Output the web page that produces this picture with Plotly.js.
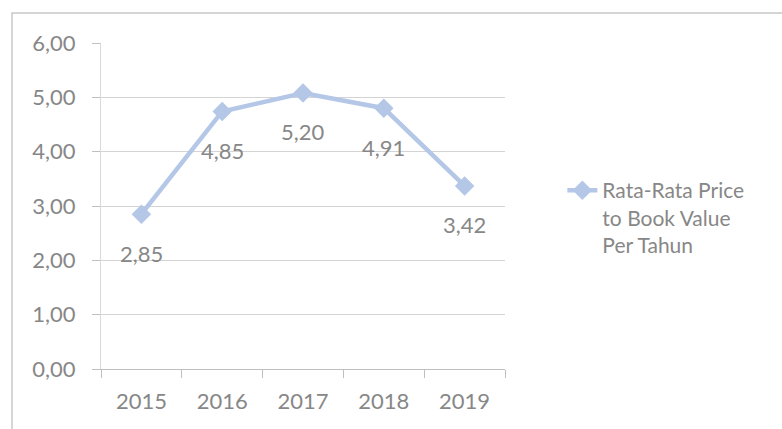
<!DOCTYPE html>
<html>
<head>
<meta charset="utf-8">
<script src="https://cdn.plot.ly/plotly-3.0.1.min.js"></script>
<style>
  html, body { margin: 0; padding: 0; background: #ffffff; }
  #chart { width: 782px; height: 429px; }
</style>
</head>
<body>
<div id="chart"></div>
<script>
// Data
const years = ['2015', '2016', '2017', '2018', '2019'];
const plottedValues = [2.85, 4.74, 5.08, 4.80, 3.37];
const dataLabels = ['2,85', '4,85', '5,20', '4,91', '3,42'];
const seriesName = 'Rata-Rata Price<br>to Book Value<br>Per Tahun';

const textColor = '#878787';
const lineColor = '#b4c7e7';
const gridColor = '#d4d4d4';
const fontFamily = 'Lato, "Open Sans", sans-serif';
const fontSize = 22;

const trace = {
  type: 'scatter',
  mode: 'lines+markers',
  x: years,
  y: plottedValues,
  name: seriesName,
  line: { color: lineColor, width: 4.5 },
  marker: { symbol: 'diamond', size: 15, color: lineColor },
  hoverinfo: 'skip'
};

// On a category axis, annotation x is the category's serial index
const annotations = years.map((yr, i) => ({
  x: i,
  y: plottedValues[i],
  xref: 'x',
  yref: 'y',
  text: dataLabels[i],
  showarrow: false,
  yshift: -39,
  font: { family: fontFamily, size: fontSize, color: textColor }
}));

const layout = {
  width: 782,
  height: 429,
  margin: { l: 101, r: 277, t: 43, b: 60, pad: 0 },
  paper_bgcolor: '#ffffff',
  plot_bgcolor: '#ffffff',
  separators: ',.',
  font: { family: fontFamily, size: fontSize, color: textColor },
  showlegend: true,
  legend: {
    x: 1.142,
    xanchor: 'left',
    y: 0.61,
    yanchor: 'top',
    valign: 'top',
    bgcolor: 'rgba(0,0,0,0)',
    font: { family: fontFamily, size: fontSize - 1, color: textColor }
  },
  xaxis: {
    type: 'category',
    categoryarray: years,
    range: [-0.5, 4.5],
    tickson: 'boundaries',
    ticks: 'outside',
    ticklen: 8,
    tickcolor: '#bfbfbf',
    showgrid: false,
    showline: true,
    linecolor: '#bfbfbf',
    linewidth: 1,
    zeroline: false,
    tickangle: 0,
    ticklabelstandoff: 13,
    tickfont: { family: fontFamily, size: fontSize, color: textColor },
    fixedrange: true
  },
  yaxis: {
    range: [0, 6],
    dtick: 1,
    tick0: 0,
    tickformat: '.2f',
    ticks: 'outside',
    ticklen: 8,
    tickcolor: '#bfbfbf',
    showgrid: true,
    gridcolor: gridColor,
    gridwidth: 1,
    showline: true,
    linecolor: '#d9d9d9',
    zeroline: false,
    ticklabelstandoff: 12,
    tickfont: { family: fontFamily, size: fontSize, color: textColor },
    fixedrange: true
  },
  annotations: annotations,
  shapes: [{
    type: 'rect',
    xref: 'paper',
    yref: 'paper',
    x0: -0.2203,
    x1: 1.8,
    y0: -0.4,
    y1: 1.092,
    line: { color: '#c8c8c8', width: 1.5 },
    fillcolor: 'rgba(0,0,0,0)',
    layer: 'below'
  }]
};

Plotly.newPlot('chart', [trace], layout, { displayModeBar: false, staticPlot: true });
</script>
</body>
</html>
